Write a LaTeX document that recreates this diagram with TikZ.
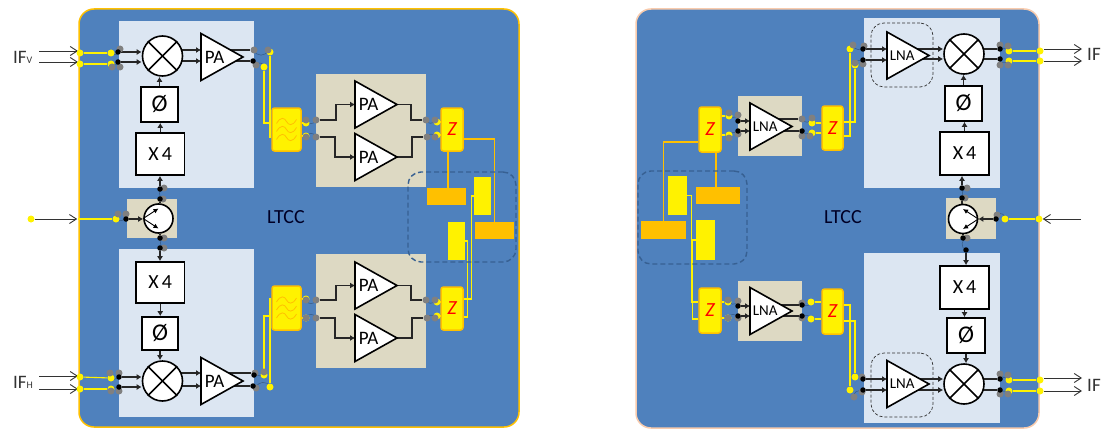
\documentclass[tikz,border=0pt]{standalone}
\usepackage{fontspec}
\setmainfont{Carlito}
\usepackage{tikz}
\usetikzlibrary{arrows.meta,backgrounds,shapes.geometric}

\definecolor{panelblue}{HTML}{4F81BD}
\definecolor{lightbox}{HTML}{DCE6F2}
\definecolor{beigebox}{HTML}{DDD9C3}
\definecolor{ltccorange}{HTML}{FFC000}
\definecolor{peach}{HTML}{F8CBAD}
\definecolor{dashblue}{HTML}{376092}

\begin{document}
\begin{tikzpicture}[x=1pt,y=-1pt,
                    panel/.style={rectangle,rounded corners=15,inner sep=0,line width=1.5},
                    area/.style={rectangle,inner sep=0},
                    lbl/.style={rectangle,draw=black,fill=white,inner sep=0,line width=1.6,font=\fontsize{20}{22}\selectfont},
                    mixer/.style={circle,draw=black,fill=white,inner sep=0,minimum size=40,line width=1.6},
                    splitter/.style={circle,draw=black,fill=white,inner sep=0,minimum size=29,line width=1.6},
                    amp/.style={isosceles triangle,isosceles triangle stretches,shape border rotate=0,draw=black,fill=white,
                                inner sep=0,outer sep=0,line width=1.6,anchor=lower side,minimum height=42,minimum width=47},
                    paamp/.style={amp,font=\fontsize{19}{20}\selectfont},
                    lnaamp/.style={amp,font=\fontsize{15}{17}\selectfont},
                    chip/.style={rectangle,rounded corners=2.5,draw=ltccorange,fill=yellow,inner sep=0,line width=1.5},
                    zchip/.style={chip,text=red,font=\fontsize{20}{22}\selectfont\itshape},
                    stub/.style={rectangle,inner sep=0},
                    cluster/.style={rectangle,rounded corners=13,inner sep=0},
                    gvia/.style={circle,fill=black!50,inner sep=0,minimum size=7},
                    yvia/.style={circle,fill=yellow,inner sep=0,minimum size=7},
                    kvia/.style={circle,fill=black,inner sep=0,minimum size=5.5},
                    wire/.style={draw=black!85,line width=1.1},
                    tip/.style={wire,-{Latex[length=5,width=6]}},
                    ifline/.style={draw=black!80,line width=0.9,-{Straight Barb[length=7,width=9]}},
                    ywire/.style={draw=yellow,line width=1.1},
                    owire/.style={draw=ltccorange,line width=1.1},
                    loopy/.style={draw=black!30!panelblue,line width=0.5},
                    arm/.style={black,-{Latex[length=5,width=5]},line width=0.9},
                    ifname/.style={font=\fontsize{19}{21}\selectfont,text=black!80,inner sep=0}
                ]
\useasboundingbox (0,0) rectangle (1102,428);

% carriers and grounds
\begin{scope}[on background layer]
    \node[panel,draw=ltccorange,fill=panelblue,minimum width=440,minimum height=418] (pleft) at (299,218) {};
    \node[panel,draw=peach,fill=panelblue,minimum width=403,minimum height=419] (pright) at (837.5,218.5) {};
    \foreach \n/\x/\y/\w/\h in {lb1/186.5/104.5/135/167,lb2/186.5/333/135/168,lb3/932/103/136/170,lb4/932/338/136/170}
        \node[area,fill=lightbox,minimum width=\w,minimum height=\h] (\n) at (\x,\y) {};
    \foreach \n/\x/\y/\w/\h in {bb1/152/218.5/50/39,bb2/371/130.5/110/113,bb3/371/311/110/114,bb4/971/218.5/50/41,bb5/770/126/64/60,bb6/770/311/64/60}
        \node[area,fill=beigebox,minimum width=\w,minimum height=\h] (\n) at (\x,\y) {};
\end{scope}

\node at (286,217) [inner sep=0,font=\fontsize{20}{22}\selectfont,text=black!85!blue] (ltccl) {LTCC};
\node at (843,217) [inner sep=0,font=\fontsize{20}{22}\selectfont,text=black!85!blue] (ltccr) {LTCC};

% multipliers and phase shifters
\foreach \n/\x/\y/\w/\h in {x1/160.25/154/48.5/42,x2/160.25/282.5/48.5/41,x3/964.5/153.5/49/43,x4/964.5/287.5/49/43}
    \node[lbl,minimum width=\w,minimum height=\h] (\n) at (\x,\y) {X\hspace{3pt}4};
\foreach \n/\x/\y/\w/\h in {ph1/159.5/104.5/37/35,ph2/160/333.5/36/33,ph3/963.5/103.5/37/35,ph4/966/335.5/38/35}
    \node[lbl,minimum width=\w,minimum height=\h,font=\fontsize{24}{25}\selectfont] (\n) at (\x,\y) {Ø};

% mixers
\foreach \n/\x/\y in {m1/162.5/56,m2/162.5/381,m3/964/54,m4/964/384}
    {
    \node[mixer] (\n) at (\x,\y) {};
    \draw[line width=1.6] (\n.45) -- (\n.225);
    \draw[line width=1.6] (\n.135) -- (\n.315);
    }
\node[splitter] (s1) at (158.5,218.5) {};
\node[splitter] (s2) at (963,219) {};

% amplifiers
\foreach \n/\x/\y in {t1/201/57,t2/201/381,t3/355/104.5,t4/355/157,t5/355/285.5,t6/355/338}
    \node[paamp] (\n) at (\x,\y) {PA};
\foreach \n/\x/\y in {t7/750/126.5,t8/750/311,t9/887/55.5,t10/887/384}
    \node[lnaamp] (\n) at (\x,\y) {LNA};

% filters, impedance blocks, stubs
\foreach \n/\x/\y/\w/\h in {f1/286.5/129.5/29/43,f2/286.5/308/29/44}
    {
    \node[chip,minimum width=\w,minimum height=\h] (\n) at (\x,\y) {};
    \begin{scope}[shift={(\n.center)}]
        \foreach \o in {-8,0,8}
            \draw[ltccorange,line width=0.8] (-10,\o+2) .. controls (-6,\o-5) and (-2,\o-4) .. (0,\o) .. controls (2,\o+4) and (6,\o+5) .. (10,\o-2);
    \end{scope}
    }
\foreach \n/\x/\y/\w/\h in {z1/452/129.5/22/43,z2/452/308.5/22/43,z3/710/129.5/22/45,z4/710/310.5/22/45,z5/832.5/128/21/44,z6/832.5/311.5/21/45}
    \node[zchip,minimum width=\w,minimum height=\h] (\n) at (\x,\y) {Z};
\foreach \n/\x/\y/\w/\h in {o1/446.5/196.5/39/17,o2/494.5/230.5/39/17,o3/663.5/230/45/18,o4/718/195.5/44/17}
    \node[stub,fill=ltccorange,minimum width=\w,minimum height=\h] (\n) at (\x,\y) {};
\foreach \n/\x/\y/\w/\h in {r1/482.5/196/17/38,r2/456.5/241/17/38,r3/677.5/195.5/19/39,r4/705.5/240/19/40}
    \node[stub,fill=yellow,minimum width=\w,minimum height=\h] (\n) at (\x,\y) {};
\node[cluster,draw=dashblue,dash pattern=on 5 off 3,line width=1.4,minimum width=108,minimum height=90] (c1) at (462,217) {};
\node[cluster,draw=dashblue,dash pattern=on 5 off 3,line width=1.4,minimum width=109,minimum height=93] (c2) at (692.5,217.5) {};
\node[cluster,draw=black!80,densely dashed,line width=0.7,minimum width=62,minimum height=64] (c3) at (902,55) {};
\node[cluster,draw=black!80,densely dashed,line width=0.7,minimum width=62,minimum height=64] (c4) at (902,385) {};

% vias
\foreach \n/\x/\y in {1/80/53,2/80/64,3/111/53,4/111/64,5/264/67,6/270/52,7/31/219,8/116/219,
                      9/80/377,10/80/389,11/111/378,12/111/389,13/264/375,14/270/387,
                      15/306/123,16/306/136,17/306/299,18/306/318,19/437/122,20/437/135,21/437/302,22/437/316,
                      23/1040/51,24/1040/61,25/1009/51,26/1009/61,27/850/49,28/855/65,29/1039/219,30/1005/219,
                      31/1040/380,32/1040/391,33/1009/380,34/1009/391,35/855/377,36/850/390,
                      37/729/116,38/729/135,39/728/302,40/728/318,41/812/123,42/812/133,43/811/302,44/811/319}
    \node[yvia] (y\n) at (\x,\y) {};
\foreach \n/\x/\y in {1/120/49,2/120/67,3/112/67,4/254/50,5/268/50,6/256/65,7/118/214,8/126/214,
                      9/164/188,10/163/199,11/164/238,12/164/248,13/110/373,14/119/373,15/119/391,16/111/391,
                      17/255/373,18/264/372,19/256/388,20/306/120,21/316/120,22/306/137,23/316/137,
                      24/426/120,25/435/120,26/427/137,27/435/137,28/306/300,29/316/300,30/306/318,31/316/318,
                      32/426/300,33/435/300,34/427/318,35/435/318,
                      36/1000/45,37/1008/46,38/1000/65,39/1008/65,40/853/45,41/864/46,42/855/63,43/863/64,
                      44/997/215,45/967/188,46/965/198,47/967/238,48/1000/374,49/1008/375,50/1000/394,51/1008/394,
                      52/854/397,53/862/377,54/862/392,55/729/113,56/738/115,57/729/138,58/738/134,
                      59/728/300,60/738/301,61/728/318,62/738/318,63/802/119,64/812/118,65/802/136,66/810/136,
                      67/802/303,68/802/318}
    \node[gvia] (g\n) at (\x,\y) {};
\foreach \n/\x/\y in {1/118/52,2/118/62,3/126/219,4/160/189,5/160/199,6/160/238,7/160/248,8/119/377,9/119/387,
                      10/253/61,11/254/375,12/253/386,13/1000/49,14/1000/59,15/863/49,16/863/60,17/996/219,
                      18/962/198,19/963/238,20/966/250,21/1000/379,22/1000/390,23/863/379,24/863/390,
                      25/738/121,26/738/131,27/802/131,28/738/306,29/738/316,30/802/305,31/802/316,32/962/188}
    \node[kvia] (k\n) at (\x,\y) {};

\coordinate (ifa) at (39,51);
\coordinate (ifb) at (39,62);
\coordinate (ifc) at (39,376);
\coordinate (ifd) at (39,389);
\coordinate (ife) at (1082,49);
\coordinate (iff) at (1082,61);
\coordinate (ifg) at (1082,378);
\coordinate (ifh) at (1082,391);
\coordinate (ifi) at (1081,219);

\node[ifname,anchor=west] (nifa) at (13,57) {IF{\fontsize{10}{10}\selectfont V}};
\node[ifname,anchor=west] (nifb) at (13,382) {IF{\fontsize{10}{10}\selectfont H}};
\node[ifname,anchor=west] (nifc) at (1087,54) {IF};
\node[ifname,anchor=west] (nifd) at (1087,385) {IF};

\begin{scope}[on background layer]
    % yellow routing
    \foreach \a/\b in {y1/y3,y2/y4,y9/y11,y10/y12,y23/y25,y24/y26,y29/y30,y31/y33,y32/y34}
        \draw[ywire] (\a) -- (\b);
    \draw[ywire] (y8 -| pleft.west) -- (y8);
    \foreach \a/\b in {y15/f1.east,y16/f1.east,y17/f2.east,y18/f2.east,y19/z1.west,y20/z1.west,y21/z2.west,y22/z2.west,
                       y37/z3.east,y38/z3.east,y39/z4.east,y40/z4.east,y41/z5.west,y42/z5.west,y43/z6.west,y44/z6.west}
        \draw[ywire] (\a) -- (\a -| \b);
    \draw[ywire] (y6) |- ([yshift=-7.5]f1.west);
    \draw[ywire] (y5) |- ([yshift=6.5]f1.west);
    \draw[ywire] (y13) |- ([yshift=-8]f2.west);
    \draw[ywire] (y14) |- ([yshift=9]f2.west);
    \draw[ywire] ([yshift=-8.5]z2.east) -| ([xshift=2]r2.east) -- (r2.east);
    \draw[ywire] ([yshift=9.5]z2.east) -| ([xshift=-2]r1.west) -- (r1.west);
    \draw[ywire] (r3.east) -- ++(4,0) |- ([yshift=8.5]z4.west);
    \draw[ywire] (r4.west) -- ++(-3,0) |- ([yshift=-8.5]z4.west);
    \draw[ywire] ([yshift=-8]z5.east) -| (y27);
    \draw[ywire] ([yshift=6]z5.east) -| (y28);
    \draw[ywire] ([yshift=-9.5]z6.east) -| (y35);
    \draw[ywire] ([yshift=6.5]z6.east) -| (y36);
    % stub feeds
    \draw[owire] ([yshift=-9.5]z1.east) -| (o2.north);
    \draw[owire] ([xshift=-4]z1.south) -- ([xshift=-4]z1.south |- o1.north);
    \draw[owire] ([yshift=-12.5]z3.west) -| (o3.north);
    \draw[owire] ([xshift=6]z3.south) -- ([xshift=6]z3.south |- o4.north);
    % via loops
    \foreach \a/\b in {y3/g1,g4/g5,y8/g8,y19/g25,g20/g21,g24/g25,g28/g29,g32/g33,y11/g14,g17/g18,
                       g40/g41,g36/g37,g48/g49,y30/g44,g55/g56,g59/g60,g63/g64,g67/y43,g45/g46}
        \draw[loopy] (\a.center) to[bend right=75,looseness=1.3] (\b.center);
    \foreach \a/\b in {g3/g2,g6/y5,g22/g23,g26/g27,g30/g31,g34/g35,y12/g15,g19/y14,
                       g42/g43,g38/g39,g50/g51,g52/g54,g57/g58,g61/g62,g65/g66,g68/y44}
        \draw[loopy] (\a.center) to[bend left=75,looseness=1.3] (\b.center);
    \foreach \a/\b in {g9/g10,g11/g12,g47/k20}
        \draw[loopy] (\a.center) to[bend right=75,looseness=1.3] (\b.center);
    % signal wires
    \foreach \a/\b in {k1/m1,k2/m1,k8/m2,k9/m2}
        \draw[tip] (\a) -- (\a -| \b.west);
    \foreach \a/\b in {k15/t9,k16/t9,k23/t10,k24/t10,k25/t7,k26/t7,k28/t8,k29/t8}
        \draw[tip] (\a) -- (\a -| \b.lower side);
    \foreach \a/\b/\c in {g4/m1/t1,k10/m1/t1,g17/m2/t2,k12/m2/t2}
        {
        \draw[tip] (\a -| \b) -- (\a -| \c.lower side);
        \draw[wire] (\a -| \c.center) -- (\a);
        }
    \foreach \a/\b/\c in {k13/m3/t9,k14/m3/t9,k21/m4/t10,k22/m4/t10}
        {
        \draw[tip] (\a -| \c.center) -- (\a -| \b.west);
        \draw[wire] (\a -| \b) -- (\a);
        }
    \foreach \a/\b in {g63/t7,k27/t7,k30/t8,k31/t8}
        \draw[wire] (\a -| \b.center) -- (\a);
    \foreach \a/\b in {g21/t3,g29/t5}
        \draw[tip] (\a) -- ++(20,0) |- (\b.lower side);
    \foreach \a/\b in {g23/t4,g31/t6}
        \draw[tip] (\a) -- ++(19,0) |- (\b.lower side);
    \foreach \a/\b in {t3/g24,t5/g32}
        \draw[wire] (\a.apex) -- ++(14,0) |- (\b);
    \foreach \a/\b in {t4/g26,t6/g34}
        \draw[wire] (\a.apex) -- ++(15,0) |- (\b);
    % LO chain
    \foreach \a/\b in {k5/s1.north,k6/s1.south,k18/s2.north,k19/s2.south}
        \draw[wire] (\a) -- (\a |- \b);
    \foreach \a/\b in {k4/x1.south,k7/x2.north,k32/x3.south,k20/x4.north}
        \draw[tip] (\a) -- (\a |- \b);
    \foreach \a/\b in {x1.north/ph1.south,ph1.north/m1.south,x2.south/ph2.north,ph2.south/m2.north,
                       x3.north/ph3.south,ph3.north/m3.south,x4.south/ph4.north,ph4.south/m4.north}
        \draw[tip] (\a) -- (\a |- \b);
    \draw[tip] (k3) -- (k3 -| s1.west);
    \draw[tip] (k17) -- (k17 -| s2.east);
    % outside ports
    \foreach \a/\b in {ifa/y1,ifb/y2,ifc/y9,ifd/y10}
        \draw[ifline,shorten >=2] (\a) -- (\a -| \b);
    \foreach \a/\b in {ife/y23,iff/y24,ifg/y31,ifh/y32}
        \draw[ifline] (\a -| \b.east) -- (\a);
    \draw[ifline,shorten >=1] (y7) -- (y7 -| pleft.west);
    \draw[ifline] (ifi) -- (y29);
\end{scope}

% coupler arms
\draw[arm] (s1.west) -- ([yshift=-10]s1.center);
\draw[arm] (s1.west) -- ([yshift=10]s1.center);
\draw[arm] (s2.east) -- ([yshift=-10]s2.center);
\draw[arm] (s2.east) -- ([yshift=10]s2.center);
\end{tikzpicture}
\end{document}
